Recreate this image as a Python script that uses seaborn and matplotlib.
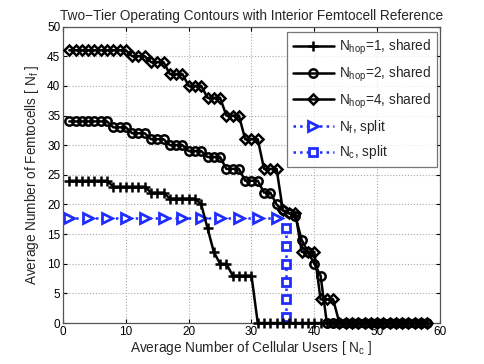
import numpy as np
import pandas as pd
import matplotlib
matplotlib.use('Agg')
import matplotlib.pyplot as plt
import seaborn as sns

# data
users = list(range(1, 59))

nhop1 = [24, 24, 24, 24, 24, 24, 24,
         23, 23, 23, 23, 23, 23,
         22, 22, 22,
         21, 21, 21, 21, 21,
         20, 16, 12, 10, 10,
         8, 8, 8, 8] + [0] * 28

nhop2 = [34, 34, 34, 34, 34, 34, 34,
         33, 33, 33, 32, 32, 32, 31, 31, 31, 30, 30, 30,
         29, 29, 29, 28, 28, 28, 26, 26, 26, 24, 24, 24,
         22, 22, 20, 19, 18.5, 18, 14, 12, 10, 8] + [0] * 17

nhop4 = [46, 46, 46, 46, 46, 46, 46, 46, 46, 46,
         45, 45, 45, 44, 44, 44, 42, 42, 42, 40, 40, 40,
         38, 38, 38, 35, 35, 35, 31, 31, 31, 26, 26, 26,
         19, 18.5, 18.5, 12, 12, 12, 4, 4, 4] + [0] * 15

nf_split_x = [1, 4, 7, 10, 13, 16, 19, 22, 25, 28, 31, 34]
nf_split_y = [17.7] * 12
nc_split_x = [35.5] * 6
nc_split_y = [1, 4, 7, 10, 13, 16]

sns.set_style('whitegrid')
plt.rcParams['font.family'] = ['Liberation Sans', 'DejaVu Sans']
plt.rcParams['mathtext.default'] = 'regular'

fig = plt.figure(figsize=(4.85, 3.64), dpi=100)
ax = fig.add_axes([0.130, 0.1126, 0.777, 0.8144])

shared = pd.DataFrame({'users': users, 'n1': nhop1, 'n2': nhop2, 'n4': nhop4})

blue = '#1f2dff'
kw = dict(color='black', linewidth=1.8, markeredgewidth=1.8,
          markeredgecolor='black', estimator=None, clip_on=False, zorder=3)
sns.lineplot(data=shared, x='users', y='n1', marker='+', markersize=7, ax=ax,
             label=r'N$_{hop}$=1, shared', **kw)
sns.lineplot(data=shared, x='users', y='n2', marker='o', markersize=6, ax=ax,
             markerfacecolor='none', label=r'N$_{hop}$=2, shared', **kw)
sns.lineplot(data=shared, x='users', y='n4', marker='D', markersize=5.5, ax=ax,
             markerfacecolor='none', label=r'N$_{hop}$=4, shared', **kw)
sns.lineplot(x=nf_split_x, y=nf_split_y, marker='>', ax=ax, color=blue,
             linestyle=':', linewidth=1.8, markersize=7, markeredgewidth=2,
             markeredgecolor=blue, markerfacecolor='white', estimator=None,
             label=r'N$_f$, split')
sns.lineplot(x=nc_split_x, y=nc_split_y, marker='s', ax=ax, color=blue,
             linestyle=':', linewidth=1.8, markersize=5.5, markeredgewidth=2,
             markeredgecolor=blue, markerfacecolor='white', sort=False,
             estimator=None, label=r'N$_c$, split')

ax.set_xlim(0, 60)
ax.set_ylim(0, 50)
ax.set_xticks(range(0, 61, 10))
ax.set_yticks(range(0, 51, 5))
ax.grid(True, linestyle=':', color='#aaaaaa', linewidth=0.8)
ax.tick_params(direction='in', length=3, labelsize=8.5, pad=2, colors='black',
               top=True, right=True, bottom=True, left=True)
for s in ax.spines.values():
    s.set_color('#555555')
    s.set_linewidth(0.9)

ax.set_title('Two\u2212Tier Operating Contours with Interior Femtocell Reference',
             fontsize=9.8, pad=5)
ax.set_xlabel('Average Number of Cellular Users [ N$_c$ ]', fontsize=9.8, labelpad=1)
ax.set_ylabel('Average Number of Femtocells [ N$_f$ ]', fontsize=9.8, labelpad=4)

leg = ax.legend(loc='upper right', fontsize=9.8, handlelength=3.0, frameon=True,
                fancybox=False, borderpad=0.4, labelspacing=0.55, handletextpad=0.4,
                borderaxespad=0, bbox_to_anchor=(0.992, 0.981))
leg.get_frame().set_edgecolor('#555555')
leg.get_frame().set_linewidth(0.9)
leg.set_zorder(5)

fig.savefig('out.png', dpi=100)
